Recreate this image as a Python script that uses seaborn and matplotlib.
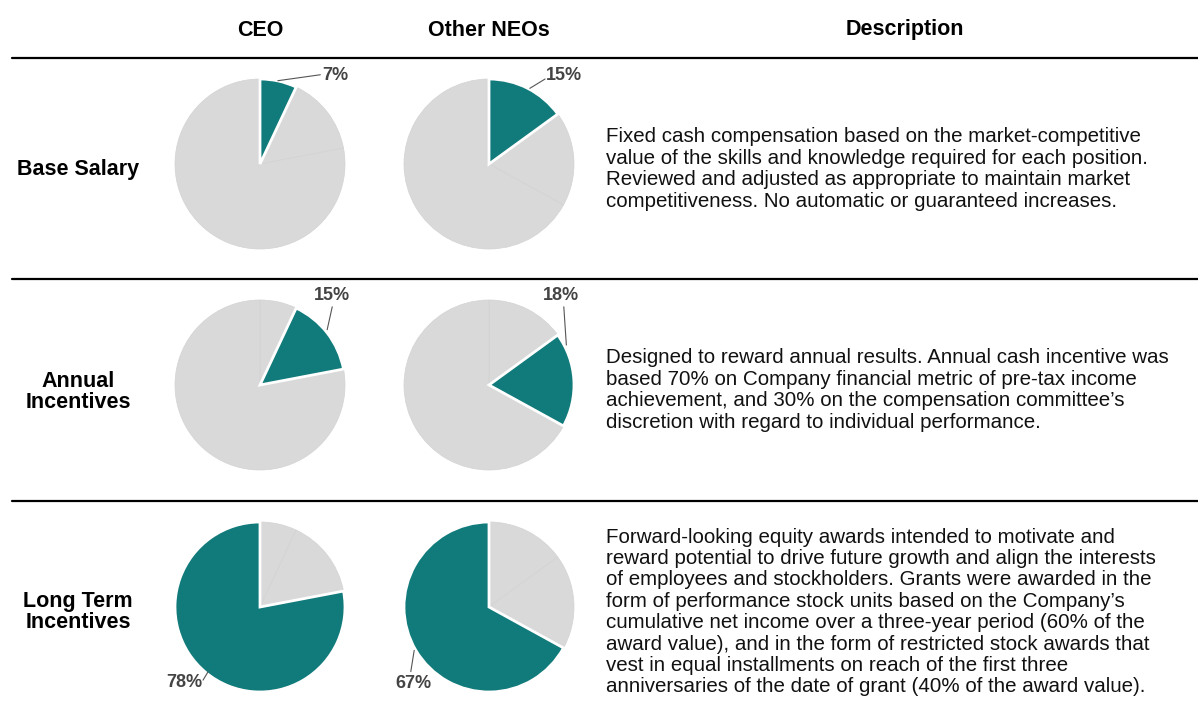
import matplotlib
matplotlib.use("Agg")
import matplotlib.pyplot as plt
import seaborn as sns

sns.set_theme(style="white")
plt.rcParams['font.family'] = ['Liberation Sans', 'DejaVu Sans']

# Datos
componentes = ["Base Salary", "Annual\nIncentives", "Long Term\nIncentives"]
grupos = ["CEO", "Other NEOs"]
ceo_pct = [7, 15, 78]
neo_pct = [15, 18, 67]
descripciones = [
    "Fixed cash compensation based on the market-competitive\n"
    "value of the skills and knowledge required for each position.\n"
    "Reviewed and adjusted as appropriate to maintain market\n"
    "competitiveness. No automatic or guaranteed increases.",
    "Designed to reward annual results. Annual cash incentive was\n"
    "based 70% on Company financial metric of pre-tax income\n"
    "achievement, and 30% on the compensation committee\u2019s\n"
    "discretion with regard to individual performance.",
    "Forward-looking equity awards intended to motivate and\n"
    "reward potential to drive future growth and align the interests\n"
    "of employees and stockholders. Grants were awarded in the\n"
    "form of performance stock units based on the Company\u2019s\n"
    "cumulative net income over a three-year period (60% of the\n"
    "award value), and in the form of restricted stock awards that\n"
    "vest in equal installments on reach of the first three\n"
    "anniversaries of the date of grant (40% of the award value).",
]

TEAL = "#117a7a"
GRIS = "#d9d9d9"
W, H = 1198, 713
R = 85  # radio del pie en pixeles
LIM = 1.4

# Posiciones de las etiquetas (unidades del radio): punto en la cu√±a, punto del texto, texto, alineacion
etiquetas = {
    (0, 0): ((0.21, 0.98), (0.71, 1.05), (0.73, 1.04), 'left'),
    (1, 0): ((0.48, 0.89), (0.66, 1.00), (0.67, 1.04), 'left'),
    (0, 1): ((0.79, 0.65), (0.85, 0.92), (0.85, 1.05), 'center'),
    (1, 1): ((0.91, 0.47), (0.88, 0.92), (0.85, 1.05), 'center'),
    (0, 2): ((-0.61, -0.76), (-0.67, -0.86), (-0.68, -0.89), 'right'),
    (1, 2): ((-0.88, -0.51), (-0.92, -0.76), (-0.89, -0.90), 'center'),
}

centros_x = [260, 489]
centros_y = [164, 385, 607]


def fx(x):
    return x / W


def fy(y):
    return 1 - y / H


fig = plt.figure(figsize=(W / 100, H / 100), dpi=100)

# Encabezados
for g, cx in zip(grupos, centros_x):
    fig.text(fx(cx), fy(30), g, ha='center', va='center', fontsize=15.5, fontweight='bold', color='black')
fig.text(fx(905), fy(30), "Description", ha='center', va='center', fontsize=15.5, fontweight='bold', color='black')

# Lineas horizontales
for y in [58, 279, 501]:
    fig.add_artist(plt.Line2D([fx(12), 1.0], [fy(y), fy(y)], color='black', linewidth=1.6))

desfase_label = [6, 7, 5]
for i, (comp, cy) in enumerate(zip(componentes, centros_y)):
    fig.text(fx(78), fy(cy + desfase_label[i]), comp, ha='center', va='center', fontsize=15.5,
             fontweight='bold', color='black', linespacing=1.03)
    fig.text(fx(606), fy(cy + 5), descripciones[i], ha='left', va='center', fontsize=14.8,
             color='#111111', linespacing=1.16)

    for j, (vals, cx) in enumerate(zip([ceo_pct, neo_pct], centros_x)):
        half = R * LIM
        ax = fig.add_axes([fx(cx - half), fy(cy + half), 2 * half / W, 2 * half / H])
        colores = [TEAL if k == i else GRIS for k in range(len(vals))]
        wedges, _ = ax.pie(vals, colors=colores, startangle=90, counterclock=False,
                           wedgeprops={'linewidth': 0.5, 'edgecolor': '#d3d3d3'})
        wedges[i].set_edgecolor('white')
        wedges[i].set_linewidth(2)
        wedges[i].set_zorder(3)
        ax.set_xlim(-LIM, LIM)
        ax.set_ylim(-LIM, LIM)
        ax.axis('off')

        p0, p1, pt, ha = etiquetas[(j, i)]
        ax.plot([p0[0], p1[0]], [p0[1], p1[1]], color='#555555', linewidth=0.8, zorder=4)
        ax.text(pt[0], pt[1], f"{vals[i]}%", ha=ha, va='center', fontsize=13,
                fontweight='bold', color='#444444', zorder=5)

fig.savefig("out.png", dpi=100)
